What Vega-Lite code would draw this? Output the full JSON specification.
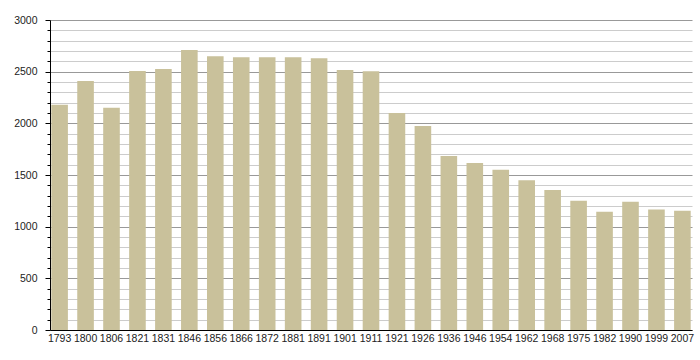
{
  "$schema": "https://vega.github.io/schema/vega-lite/v6.json",
  "autosize": "none",
  "width": 642,
  "height": 310,
  "padding": {"left": 50, "top": 20, "right": 8, "bottom": 30},
  "background": "white",
  "data": {"values": [
    {"year": "1793", "pop": 2180},
    {"year": "1800", "pop": 2410},
    {"year": "1806", "pop": 2150},
    {"year": "1821", "pop": 2506},
    {"year": "1831", "pop": 2525},
    {"year": "1846", "pop": 2710},
    {"year": "1856", "pop": 2650},
    {"year": "1866", "pop": 2640},
    {"year": "1872", "pop": 2640},
    {"year": "1881", "pop": 2640},
    {"year": "1891", "pop": 2630},
    {"year": "1901", "pop": 2515},
    {"year": "1911", "pop": 2505},
    {"year": "1921", "pop": 2100},
    {"year": "1926", "pop": 1975},
    {"year": "1936", "pop": 1685},
    {"year": "1946", "pop": 1615},
    {"year": "1954", "pop": 1550},
    {"year": "1962", "pop": 1450},
    {"year": "1968", "pop": 1355},
    {"year": "1975", "pop": 1250},
    {"year": "1982", "pop": 1145},
    {"year": "1990", "pop": 1240},
    {"year": "1999", "pop": 1165},
    {"year": "2007", "pop": 1155}
  ]},
  "config": {
    "view": {"stroke": null},
    "font": "Liberation Sans"
  },
  "mark": {"type": "bar", "color": "#c9c19b"},
  "encoding": {
    "x": {
      "field": "year", "type": "ordinal", "sort": null,
      "scale": {"paddingInner": 0.36, "paddingOuter": 0.05},
      "axis": {"title": null, "labelAngle": 0, "labelFontSize": 10.5, "labelColor": "#222", "ticks": false, "domainColor": "#000", "labelPadding": 3}
    },
    "y": {
      "field": "pop", "type": "quantitative",
      "scale": {"domain": [0, 3000], "nice": false},
      "axis": {
        "title": null,
        "values": [0,100,200,300,400,500,600,700,800,900,1000,1100,1200,1300,1400,1500,1600,1700,1800,1900,2000,2100,2200,2300,2400,2500,2600,2700,2800,2900,3000],
        "format": "d",
        "labelExpr": "datum.value % 500 === 0 ? datum.label : ''",
        "labelFontSize": 10.5,
        "labelColor": "#222",
        "domainColor": "#000",
        "tickColor": "#000",
        "tickSize": {"condition": {"test": "datum.value % 500 === 0", "value": 5}, "value": 3},
        "gridColor": {"condition": {"test": "datum.value % 500 === 0", "value": "#999999"}, "value": "#cccccc"},
        "gridOpacity": 1,
        "labelPadding": 8
      }
    }
  }
}
